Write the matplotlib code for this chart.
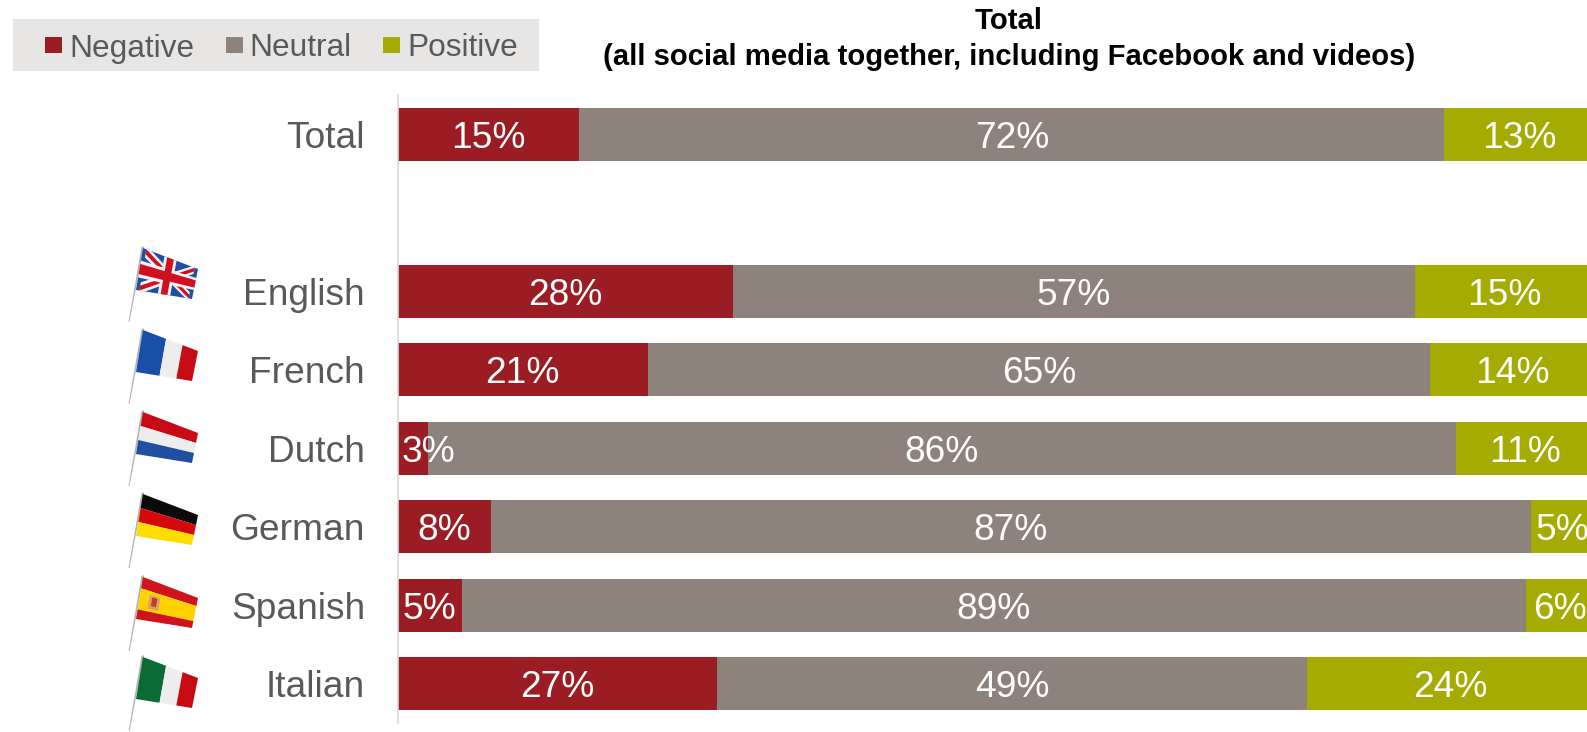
import matplotlib
matplotlib.use('Agg')
import matplotlib.pyplot as plt
from matplotlib.patches import Polygon, Rectangle

W, H = 1587, 732

# values
categories = ['Total', 'English', 'French', 'Dutch', 'German', 'Spanish', 'Italian']
rows = [0, 2, 3, 4, 5, 6, 7]
negative = [15.2, 28.0, 20.9, 2.5, 7.8, 5.4, 26.7]
neutral = [72.3, 57.0, 65.4, 86.0, 86.9, 88.9, 49.3]
positive = [12.5, 15.0, 13.7, 11.5, 5.3, 5.7, 24.0]
negative_labels = ['15%', '28%', '21%', '3%', '8%', '5%', '27%']
neutral_labels = ['72%', '57%', '65%', '86%', '87%', '89%', '49%']
positive_labels = ['13%', '15%', '14%', '11%', '5%', '6%', '24%']

RED = '#9B1D23'
GREY = '#8E827C'
GREEN = '#A5AB00'
TEXT = '#595959'

plt.rcParams['font.family'] = ['Liberation Sans', 'DejaVu Sans']

fig = plt.figure(figsize=(W / 100, H / 100), dpi=100)

# bars axes, right edge runs past the figure like the original crop
ax = fig.add_axes([397.6 / W, 1 - 723 / H, (1594 - 397.6) / W, (723 - 95) / H])
ax.set_xlim(0, 100)
ax.set_ylim(7.5, -0.5)

series = [(negative, negative_labels, RED), (neutral, neutral_labels, GREY), (positive, positive_labels, GREEN)]
left = [0.0] * len(rows)
for values, labels, color in series:
    ax.barh(rows, values, left=left, height=0.67, color=color, edgecolor='none')
    for y, x0, v, lab in zip(rows, left, values, labels):
        if v < 4:
            # too narrow for the label, it starts at the bar and runs over the next one
            ax.text(x0 + 0.3, y, lab, color='white', fontsize=26.7, ha='left', va='center_baseline')
        else:
            ax.text(x0 + v / 2, y, lab, color='white', fontsize=26.7, ha='center', va='center_baseline')
    left = [a + b for a, b in zip(left, values)]

ax.set_yticks(rows)
ax.set_yticklabels(categories, fontsize=26.7, color=TEXT, va='center_baseline')
ax.tick_params(axis='y', length=0, pad=23.5)
ax.set_xticks([])
for s in ['top', 'right', 'bottom']:
    ax.spines[s].set_visible(False)
ax.spines['left'].set_color('#D9D9D9')
ax.spines['left'].set_linewidth(1.2)

# overlay in pixel coordinates for legend box, title and flags
ov = fig.add_axes([0, 0, 1, 1], facecolor='none')
ov.set_xlim(0, W)
ov.set_ylim(H, 0)
ov.axis('off')

ov.add_patch(Rectangle((13, 19), 526, 52, facecolor='#E7E6E5', edgecolor='none'))
legend_items = [('Negative', RED, 45, 69), ('Neutral', GREY, 226, 249), ('Positive', GREEN, 383, 407)]
for name, color, sx, tx in legend_items:
    ov.add_patch(Rectangle((sx, 37), 17, 16, facecolor=color, edgecolor='none'))
    ov.text(tx, 45, name, color=TEXT, fontsize=22.8, ha='left', va='center_baseline')

ov.text(1009, 18, 'Total', fontsize=21.1, fontweight='bold', color='black', ha='center', va='center_baseline')
ov.text(1009, 54, '(all social media together, including Facebook and videos)', fontsize=21.1,
        fontweight='bold', color='black', ha='center', va='center_baseline')


def flag_point(tl, u, v):
    # bilinear map of the unit square on the skewed flag shape
    tr = (tl[0] + 55, tl[1] + 21)
    br = (tl[0] + 49, tl[1] + 51)
    bl = (tl[0] - 7, tl[1] + 42)
    top = (tl[0] + (tr[0] - tl[0]) * u, tl[1] + (tr[1] - tl[1]) * u)
    bot = (bl[0] + (br[0] - bl[0]) * u, bl[1] + (br[1] - bl[1]) * u)
    return (top[0] + (bot[0] - top[0]) * v, top[1] + (bot[1] - top[1]) * v)


def flag_poly(tl, pts, color):
    ov.add_patch(Polygon([flag_point(tl, u, v) for u, v in pts], closed=True, facecolor=color, edgecolor='none'))


def flag_box(tl, u0, v0, u1, v1, color):
    flag_poly(tl, [(u0, v0), (u1, v0), (u1, v1), (u0, v1)], color)


def draw_pole(tl):
    ov.add_patch(Polygon([(tl[0] + 1, tl[1] - 2), (tl[0] - 1.5, tl[1] - 1), (tl[0] - 14.5, tl[1] + 74), (tl[0] - 13.5, tl[1] + 74)],
                         closed=True, facecolor='#B3B3B3', edgecolor='none'))


def vertical_flag(tl, colors, cuts=(0, 0.42, 0.72, 1)):
    for i, c in enumerate(colors):
        flag_box(tl, cuts[i], 0, cuts[i + 1], 1, c)


def horizontal_flag(tl, colors, cuts=(0, 1 / 3, 2 / 3, 1)):
    for i, c in enumerate(colors):
        flag_box(tl, 0, cuts[i], 1, cuts[i + 1], c)


def uk_flag(tl):
    blue, white, red = '#1F4FA3', '#F2F2F2', '#D01020'
    flag_box(tl, 0, 0, 1, 1, blue)
    for a, b in [((0.06, 0.06), (0.94, 0.94)), ((0.06, 0.94), (0.94, 0.06))]:
        for w, c in [(0.14, white), (0.06, red)]:
            flag_poly(tl, [(a[0], a[1] - w), (a[0], a[1] + w), (b[0], b[1] + w), (b[0], b[1] - w)], c)
    flag_box(tl, 0.39, 0, 0.61, 1, white)
    flag_box(tl, 0, 0.30, 1, 0.70, white)
    flag_box(tl, 0.44, 0, 0.56, 1, red)
    flag_box(tl, 0, 0.38, 1, 0.62, red)


flag_tops = [(143, 248), (143, 330), (143, 412), (143, 494), (143, 577), (143, 657)]
for tl in flag_tops:
    draw_pole(tl)

uk_flag(flag_tops[0])
vertical_flag(flag_tops[1], ['#1A4FA8', '#EDEDED', '#C80A14'])
horizontal_flag(flag_tops[2], ['#C80A14', '#EDEDED', '#1F4FA3'])
horizontal_flag(flag_tops[3], ['#0A0A0A', '#D40A0A', '#FFDD00'])
horizontal_flag(flag_tops[4], ['#D0141C', '#FFD200', '#D0141C'], cuts=(0, 0.27, 0.77, 1))
flag_box(flag_tops[4], 0.17, 0.36, 0.36, 0.70, '#D9A06A')
flag_box(flag_tops[4], 0.22, 0.40, 0.31, 0.62, '#C0402A')
vertical_flag(flag_tops[5], ['#0B6B35', '#EDEDED', '#C80A14'])

fig.savefig('out.png', dpi=100)
